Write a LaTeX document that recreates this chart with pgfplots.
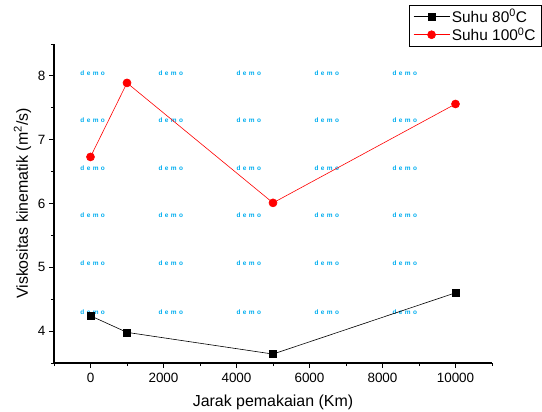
\documentclass[border=0pt]{standalone}
\usepackage{pgfplots}
\pgfplotsset{compat=1.18}
\usepackage{fontspec}
\setmainfont{Liberation Sans}
\newcommand\demotext{d\hspace{2.4bp}e\hspace{2.4bp}m\hspace{2.4bp}o}
\tikzset{wm/.style={text=cyan, font=\fontsize{6.5}{7}\selectfont\bfseries}}

\begin{document}
\begin{tikzpicture}
\begin{axis}[
    scale only axis,
    width=438bp, height=319bp,
    xmin=-1000, xmax=11000,
    ymin=3.5, ymax=8.5,
    axis lines*=left,
    axis line style={line width=1.1pt},
    tick align=outside,
    xtick={0,2000,...,10000},
    minor xtick={-1000,1000,...,11000},
    ytick={4,5,6,7,8},
    minor ytick={3.5,4.5,...,8.5},
    major tick length=5bp, minor tick length=3bp,
    every tick/.style={black, line width=0.9pt},
    scaled x ticks=false,
    xticklabel style={/pgf/number format/set thousands separator={}, yshift=-2bp},
    /pgf/number format/assume math mode=true,
    tick label style={font=\fontsize{13.5}{15}\selectfont},
    label style={font=\fontsize{16}{18}\selectfont},
    xlabel={Jarak pemakaian (Km)},
    ylabel={Viskositas kinematik (m\textsuperscript{2}/s)},
    xlabel style={yshift=-5bp},
    ylabel style={yshift=0bp},
    legend style={at={(rel axis cs:1.114,1.122)}, anchor=north east,
        font=\fontsize{15.5}{17}\selectfont, draw=black, line width=0.6pt,
        inner xsep=4bp, inner ysep=2bp, row sep=0bp},
    legend cell align=left,
    legend image code/.code={
        \draw[#1] (0bp,0bp) -- (36bp,0bp);
        \draw[#1, only marks] plot coordinates {(18bp,0bp)};
    },
    clip=false,
]
% watermark
\foreach \yy in {8.05,7.30,6.56,5.81,5.06,4.30} {
  \foreach \xx in {60,2200,4337,6474,8611} {
    \edef\tmp{\noexpand\node[wm] at (axis cs:\xx,\yy) {\noexpand\demotext};}
    \tmp
  }
}
\addplot[black, line width=0.6pt, mark=square*, mark size=3.5bp, mark options={solid}]
coordinates {(0,4.24) (1000,3.98) (5000,3.64) (10000,4.60)};
\addlegendentry{Suhu 80\textsuperscript{0}C}
\addplot[red, line width=0.6pt, mark=*, mark size=4bp, mark options={solid}]
coordinates {(0,6.73) (1000,7.89) (5000,6.01) (10000,7.56)};
\addlegendentry{Suhu 100\textsuperscript{0}C}
\end{axis}
\pgfresetboundingbox
\path (current axis.south west) ++(-54bp,-49bp) rectangle ++(542bp,412bp);
\end{tikzpicture}
\end{document}
